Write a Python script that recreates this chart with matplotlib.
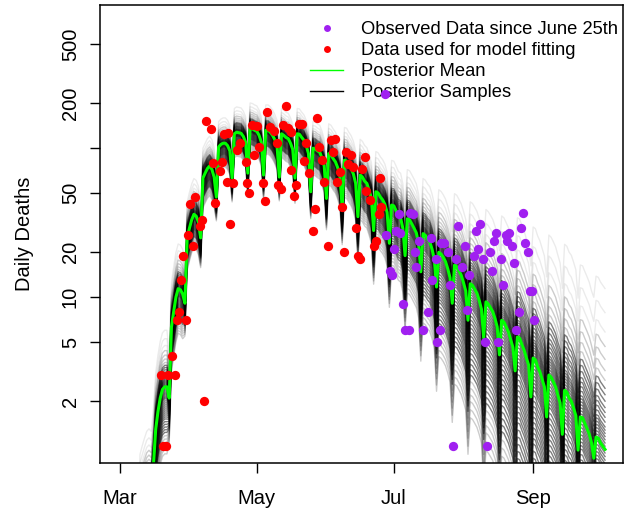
import numpy as np
import matplotlib.pyplot as plt
from matplotlib.lines import Line2D

plt.rcParams['font.family'] = ['Liberation Sans', 'DejaVu Sans']

# days are counted from March 1st
month_pos = [0, 61, 122, 184]
month_labels = ['Mar', 'May', 'Jul', 'Sep']

# daily deaths used for fitting (up to June 25th)
fit_days = [18.4, 19.4, 20.4, 21.6, 23.4, 24.6, 25.6, 26.5, 27.2, 28.3, 29.5, 30.4,
            31.4, 32.4, 33.5, 35.7, 36.6, 37.5, 38.4, 40.4, 41.6, 42.5, 44.4, 45.6,
            46.5, 47.6, 48.0, 48.9, 50.5, 52.4, 53.5, 56.0, 56.6, 57.5, 58.7, 59.7,
            60.9, 62.0, 63.8, 64.6, 65.6, 66.8, 68.7, 69.8, 70.5, 71.7, 72.7, 73.8,
            74.9, 76.0, 76.4, 77.6, 78.4, 79.7, 80.9, 81.8, 82.8, 84.3, 85.8, 86.8,
            87.8, 88.9, 90.0, 90.9, 92.9, 93.9, 94.7, 96.0, 96.7, 97.9, 98.7, 99.8,
            100.6, 101.6, 103.1, 103.8, 105.0, 106.0, 107.1, 108.0, 109.0, 109.5,
            111.2, 113.0, 114.2, 115.4, 115.7, 116.4]
fit_deaths = [3, 1, 1, 3, 4, 3, 7, 8, 13, 19, 7, 26,
              42, 22, 47, 30, 33, 2, 152, 134, 80, 43, 70, 81,
              124, 59, 126, 31, 58, 97, 108, 81, 58, 50, 143, 90,
              140, 102, 58, 44, 175, 138, 131, 108, 57, 53, 143, 191,
              136, 129, 71, 48, 57, 145, 145, 82, 108, 68, 28, 39,
              160, 102, 83, 59, 22, 113, 95, 115, 59, 69, 40, 20,
              94, 78, 90, 75, 29, 19, 18, 72, 87, 52,
              45, 22, 24, 36, 63, 40]

# observed daily deaths since June 25th
obs_days = [118.0, 118.7, 120.1, 121.2, 122.0, 123.0, 124.3, 124.6, 126.0, 126.8,
            128.6, 129.0, 130.5, 131.2, 132.0, 133.2, 134.9, 137.2, 138.7, 139.1,
            140.9, 141.3, 142.4, 142.8, 144.3, 146.0, 146.8, 148.3, 149.5, 150.5,
            152.4, 153.5, 154.5, 155.4, 157.6, 158.4, 159.4, 160.4, 161.6, 162.4,
            163.4, 164.6, 165.6, 166.4, 167.6, 168.3, 169.5, 170.5, 171.7, 172.4,
            173.4, 174.5, 175.6, 176.4, 177.5, 178.5, 179.4, 180.6, 181.6, 182.7,
            183.6, 184.6]
obs_deaths = [230, 26, 15, 14, 21, 28, 36, 27, 9, 6,
              6, 37, 36, 20, 16, 24, 6, 8, 25, 13,
              18, 5, 6, 23, 23, 20, 12, 1, 18, 30,
              16, 22, 8.2, 14, 19, 28, 21, 31, 18, 5,
              1, 20, 15, 24, 27, 5, 18, 12, 26, 24,
              27, 22, 17, 6, 8, 29, 37, 23, 20, 11,
              11, 7]

# posterior mean, one value per day from day -6 (each row = one reporting week)
mean_start = -6
post_mean = [
    0.02, 0.05, 0.06, 0.07, 0.08, 0.08, 0.07,
    0.05, 0.15, 0.17, 0.20, 0.22, 0.22, 0.20,
    0.12, 0.35, 0.40, 0.45, 0.50, 0.52, 0.50,
    0.75, 1.3, 1.7, 2.1, 2.4, 2.5, 2.5,
    2.1, 6.3, 8.0, 10.0, 11.4, 11.2, 10.5,
    9.1, 25, 29, 33, 36, 35, 32,
    25, 63, 68, 73, 76, 72, 64,
    47, 102, 106, 108, 108, 104, 96,
    63, 125, 128, 127, 126, 120, 110,
    68, 136, 135, 132, 130, 122, 110,
    66, 132, 132, 128, 122, 114, 104,
    64, 125, 122, 118, 116, 108, 98,
    63, 125, 124, 118, 113, 104, 92,
    51, 100, 99, 96, 94, 86, 76,
    46, 92, 90, 85, 81, 74, 65,
    40, 83, 82, 77, 73, 67, 58,
    34.7, 66, 64, 60, 58, 52, 46,
    28, 51, 50, 47, 45, 42, 37,
    23, 41.5, 41, 38, 35, 34, 29,
    19, 33.6, 33, 31, 29, 27, 23,
    14.8, 26.7, 26, 24.5, 23.5, 21, 18,
    11.7, 20, 19.5, 18.5, 17.3, 15.5, 13.5,
    9.1, 16.4, 16, 15, 14, 12.5, 11,
    7.0, 12.3, 12, 11.3, 10.6, 9.5, 8.3,
    5.3, 9.3, 9.0, 8.5, 8.0, 7.2, 6.3,
    4.1, 7.0, 6.8, 6.3, 5.85, 5.2, 4.6,
    3.2, 5.4, 5.3, 4.8, 4.4, 3.9, 3.5,
    2.14, 3.9, 3.8, 3.4, 3.15, 2.8, 2.5,
    1.57, 3.0, 2.9, 2.7, 2.5, 2.2, 1.95,
    1.2, 2.37, 2.3, 2.1, 2.0, 1.8, 1.6,
    0.94, 1.57, 1.55, 1.42, 1.31, 1.2, 1.05,
    0.83, 1.15, 1.13, 1.05, 1.0, 0.95,
]

# weekly spread of the posterior samples around the mean (log10 units)
spread_lo = [0.5, 0.5, 0.5, 0.45, 0.3, 0.22, 0.2, 0.16, 0.16, 0.16, 0.16,
             0.16, 0.17, 0.18, 0.21, 0.25, 0.3, 0.36, 0.43, 0.5, 0.6, 0.7,
             0.8, 0.9, 1.0, 1.1, 1.2, 1.2, 1.2, 1.2, 1.2, 1.2]
spread_hi = [0.45, 0.45, 0.4, 0.38, 0.3, 0.24, 0.2, 0.17, 0.17, 0.17, 0.17,
             0.17, 0.17, 0.18, 0.2, 0.22, 0.24, 0.27, 0.3, 0.33, 0.37, 0.42,
             0.48, 0.55, 0.62, 0.7, 0.8, 0.88, 0.94, 0.98, 1.02, 1.08]
# relative position of each sample inside the spread (-1 lowest, 1 highest)
sample_q = [-1.0, -0.94, -0.88, -0.83, -0.78, -0.73, -0.68, -0.64, -0.6, -0.56,
            -0.52, -0.48, -0.45, -0.42, -0.39, -0.36, -0.33, -0.3, -0.27, -0.24,
            -0.21, -0.18, -0.16, -0.14, -0.12, -0.1, -0.08, -0.06, -0.04, -0.02,
            0.0, 0.02, 0.04, 0.06, 0.08, 0.1, 0.12, 0.14, 0.17, 0.2, 0.23,
            0.26, 0.3, 0.34, 0.38, 0.43, 0.49, 0.56, 0.64, 0.73, 0.85, 1.0]

days = np.arange(len(post_mean)) + mean_start
mean = np.array(post_mean)
lo = np.repeat(spread_lo, 7)[:len(days)]
hi = np.repeat(spread_hi, 7)[:len(days)]

fig = plt.figure(figsize=(6.28, 5.15), dpi=100)
ax = fig.add_axes([100 / 628, 52 / 515, 523 / 628, 458 / 515])

for q in sample_q:
    if q < 0:
        width = lo
        a = 0.5 if q > -0.7 else 0.2
    else:
        width = hi
        a = 0.5 if q < 0.4 else (0.2 if q < 0.65 else 0.08)
    ax.plot(days, mean * 10 ** (q * width), color='black', alpha=a, lw=1.0)

ax.plot(days, mean, color='#00FF00', lw=2.2)

ax.plot(fit_days, fit_deaths, 'o', color='red', ms=6.7, mew=0, zorder=6)
ax.plot(obs_days, obs_deaths, 'o', color='#A020F0', ms=6.7, mew=0, zorder=6)

ax.set_yscale('log')
ax.set_ylim(0.77, 915)
ax.set_xlim(-8.8, 224)
ax.set_yticks([2, 5, 10, 20, 50, 100, 200, 500])
ax.set_yticklabels(['2', '5', '10', '20', '50', '', '200', '500'],
                   rotation=90, va='center')
ax.minorticks_off()
ax.set_xticks(month_pos)
ax.set_xticklabels(month_labels)
ax.tick_params(labelsize=14.5, length=7.5, width=1)
ax.tick_params(axis='x', pad=11)
ax.tick_params(axis='y', pad=7)
ax.set_ylabel('Daily Deaths', fontsize=14.5, labelpad=19)
for s in ax.spines.values():
    s.set_linewidth(1.1)

handles = [
    Line2D([], [], marker='o', ls='none', color='#A020F0', ms=5, mew=0),
    Line2D([], [], marker='o', ls='none', color='red', ms=5, mew=0),
    Line2D([], [], color='#00FF00', lw=1),
    Line2D([], [], color='black', lw=1),
]
labels = ['Observed Data since June 25th', 'Data used for model fitting',
          'Posterior Mean', 'Posterior Samples']
ax.legend(handles, labels, loc='upper left', bbox_to_anchor=(310 / 628, 1 - 21 / 515),
          bbox_transform=fig.transFigure, frameon=False, fontsize=13.2,
          handlelength=1.8, handletextpad=1.0, labelspacing=0.225,
          borderpad=0, borderaxespad=0)

fig.savefig('out.png', dpi=100)
